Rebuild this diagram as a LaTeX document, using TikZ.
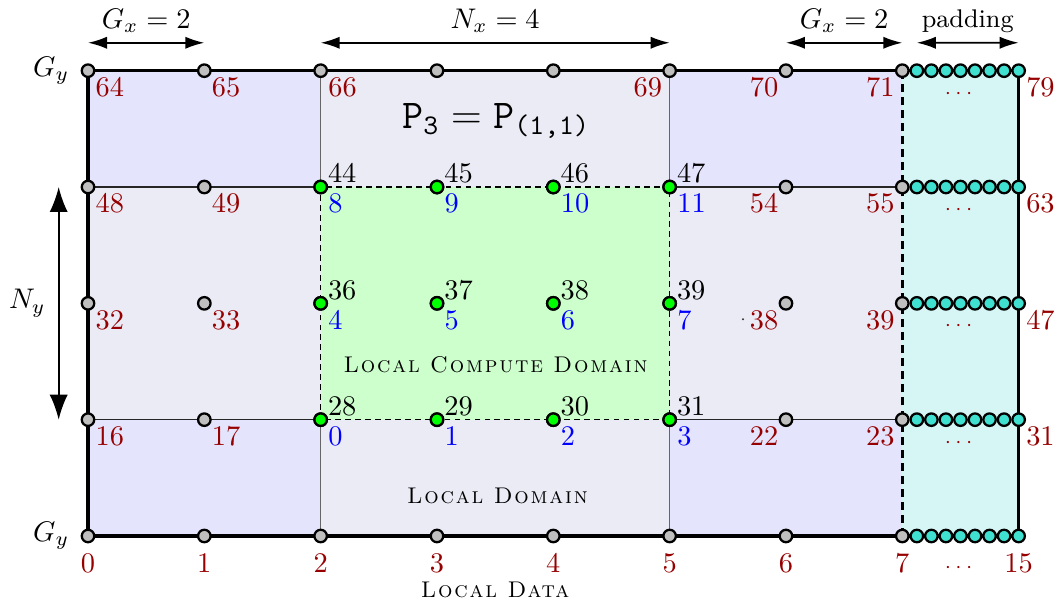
\documentclass[tikz,border=0pt]{standalone}
\usepackage{amsmath}
\usepackage{fontspec}
\usetikzlibrary{calc,arrows.meta,positioning}
\newfontfamily\capsfont[LetterSpace=8]{lmromancaps10-regular.otf}
\definecolor{halo}{RGB}{228,228,252}
\definecolor{locdom}{RGB}{235,235,246}
\definecolor{compdom}{RGB}{204,255,204}
\definecolor{padfill}{RGB}{214,246,246}
\definecolor{padnode}{RGB}{64,224,208}
\definecolor{gidred}{RGB}{150,0,0}

\begin{document}
\begin{tikzpicture}[x=1.44cm,y=1.44cm,
    pt/.style={circle,draw=black,line width=0.8pt,inner sep=0pt,minimum size=4.4pt,fill=gray!50},
    inpt/.style={pt,fill=green},
    padpt/.style={pt,fill=padnode},
    gid/.style={text=gidred,inner sep=2.5pt,text height=6.44pt,text depth=0pt},
    lid/.style={gid,text=blue},
    cid/.style={gid,text=black,inner xsep=2.4pt,inner ysep=1.3pt},
    dots/.style={gid,font=\scriptsize},
    dim/.style={{Latex[length=6.7pt,width=4.3pt]}-{Latex[length=6.7pt,width=4.3pt]},line width=0.6pt},
    dimv/.style={{Latex[length=8.8pt,width=6.4pt]}-{Latex[length=8.8pt,width=6.4pt]},line width=0.6pt},
    domlabel/.style={font=\footnotesize\capsfont}]
    \useasboundingbox (-0.7565,-0.550) rectangle (8.347,4.6076);

    \foreach \y in {0,...,4}
        \foreach \x in {0,...,8}
            \coordinate (g-\x-\y) at (\x,\y);

    \fill[locdom] (g-0-0) rectangle (g-7-4);
    \fill[halo] (g-0-3) rectangle (g-2-4) (g-5-3) rectangle (g-7-4)
                (g-0-0) rectangle (g-2-1) (g-5-0) rectangle (g-7-1);
    \fill[compdom] (g-2-1) rectangle (g-5-3);
    \fill[padfill] (g-7-0) rectangle (g-8-4);

    \draw[line width=0.45pt,black!85] (g-0-1) -- (g-2-1) (g-5-1) -- (g-7-1)
                                       (g-0-3) -- (g-2-3) (g-5-3) -- (g-7-3);
    \draw[line width=0.45pt,black!60] (g-2-0) -- (g-2-1) (g-2-3) -- (g-2-4)
                                       (g-5-0) -- (g-5-1) (g-5-3) -- (g-5-4);
    \draw[line width=0.45pt,dash pattern=on 2pt off 1.5pt] (g-2-1) rectangle (g-5-3);
    \draw[line width=1.1pt] (g-0-0) rectangle (g-8-4);
    \draw[line width=1.1pt,dash pattern=on 2.8pt off 1.8pt] (g-7-0) -- (g-7-4);

    \foreach \y in {0,...,4}{
        \foreach \x in {0,...,7}
            \node[pt] (n-\x-\y) at (g-\x-\y) {};
        \foreach \k in {1,...,8}
            \node[padpt] (p-\k-\y) at ($(g-7-\y)!\k/8!(g-8-\y)$) {};
    }
    \foreach \y in {1,2,3}
        \foreach \x in {2,...,5}
            \node[inpt] (n-\x-\y) at (g-\x-\y) {};

    \foreach \y in {1,...,4}
        \node[dots,below=-2pt of p-4-\y] {$\cdots$};
    \node[dots,below=1.2pt of p-4-0] {$\cdots$};

    \foreach \y/\a/\b/\c/\d/\e in {4/64/65/70/71/79, 3/48/49/54/55/63,
                                   2/32/33/38/39/47, 1/16/17/22/23/31}{
        \node[gid,anchor=north west] at (n-0-\y) {\a};
        \node[gid,anchor=north west] at (n-1-\y) {\b};
        \node[gid,anchor=north east] at (n-6-\y) {\c};
        \node[gid,anchor=north east] at (n-7-\y) {\d};
        \node[gid,anchor=north west] at (p-8-\y) {\e};
    }
    \node[gid,anchor=north west] at (n-2-4) {66};
    \node[gid,anchor=north east] at (n-5-4) {69};

    \foreach \y/\s/\l in {3/44/8, 2/36/4, 1/28/0}
        \foreach \x [count=\i from 0] in {2,...,5}{
            \node[cid,anchor=south west] at (n-\x-\y) {\the\numexpr\s+\i\relax};
            \node[lid,anchor=north west] at (n-\x-\y) {\the\numexpr\l+\i\relax};
        }

    \foreach \x in {0,...,7}
        \node[gid,below=1.2pt of n-\x-0] {\x};
    \node[gid,below=1.2pt of p-8-0] {15};
    \fill[black!80] (5.631,1.863) circle (0.4pt);

    \node[left=0.5pt of n-0-4] (gy-top) {$G_y$};
    \node[left=0.5pt of n-0-0] (gy-bot) {$G_y$};

    \foreach \x in {0,1,2,5,6,7,8}
        \coordinate (t-\x) at ($(g-\x-4)+(0,0.24)$);
    \coordinate (t-p) at ($(p-1-4)+(0,0.24)$);
    \draw[dim] (t-0) -- node[above] {$G_x = 2$} (t-1);
    \draw[dim] (t-2) -- node[above] {$N_x = 4$} (t-5);
    \draw[dim] (t-6) -- node[above] {$G_x = 2$} (t-7);
    \draw[dim] (t-p) -- node[above,font=\small] {padding} (t-8);

    \coordinate (s-3) at ($(g-0-3)+(-0.252,0)$);
    \coordinate (s-1) at ($(g-0-1)+(-0.252,0)$);
    \draw[dimv] (s-3) -- node[left=1pt] {$N_y$} (s-1);

    \node[anchor=base] (ptitle) at (3.51,3.507)
        {\Large$\texttt{P}_{\texttt{3}} = \texttt{P}_{\texttt{(1,1)}}$};
    \node[domlabel] (compute) at (3.503,1.47) {Local Compute Domain};
    \node[domlabel] (domain) at (3.52,0.344) {Local Domain};
    \node[domlabel] (data) at (3.5,-0.464) {Local Data};
\end{tikzpicture}
\end{document}
